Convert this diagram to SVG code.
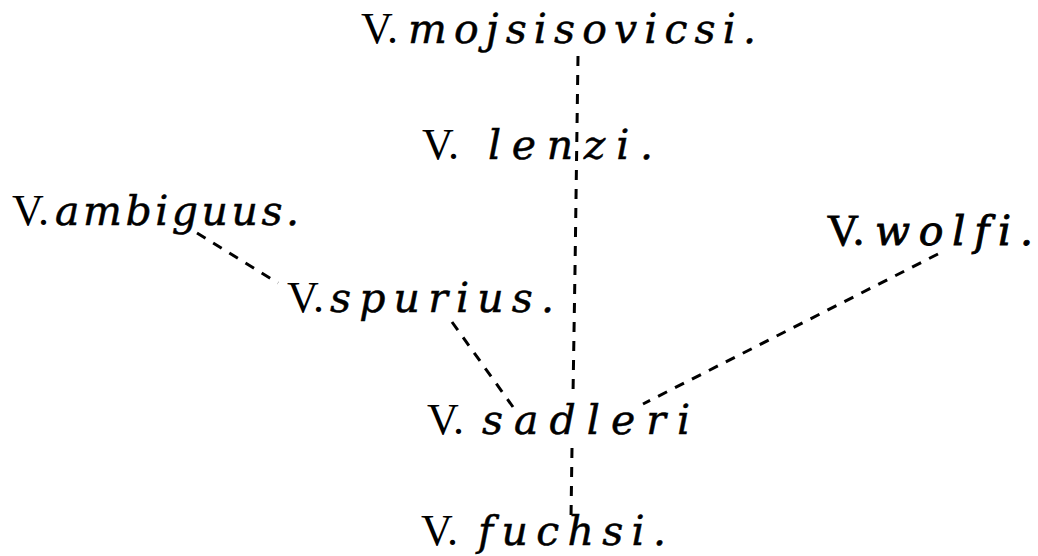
<svg xmlns="http://www.w3.org/2000/svg" width="1038" height="556" viewBox="0 0 1038 556">
<style>
.v{font-family:"Liberation Serif","DejaVu Serif",serif;font-size:44px;fill:#000}
.sp{font-family:"DejaVu Serif","Liberation Serif",serif;font-style:italic;font-size:41px;fill:#000;font-variant-ligatures:none;stroke:#000;stroke-width:0.5}
.b{stroke:#000;stroke-width:0.9}
.dash{stroke:#000;stroke-width:3;fill:none;stroke-dasharray:10 9}
</style>
<rect width="1038" height="556" fill="#fff"/>
<g id="connectors">
<polyline class="dash" points="578,56 575,270 573,395"/>
<line class="dash" x1="572" y1="448" x2="571" y2="518"/>
<line class="dash" x1="197" y1="233" x2="278" y2="283"/>
<line class="dash" x1="452" y1="322" x2="513" y2="407"/>
<line class="dash" x1="938" y1="254" x2="643" y2="404"/>
</g>
<g id="mojsisovicsi"><text class="v" x="361" y="43">V.</text><text class="sp" x="408" y="43" textLength="348" lengthAdjust="spacing">mojsisovicsi.</text></g>
<g id="lenzi"><text class="v" x="422" y="159">V.</text><text class="sp" x="488" y="159" textLength="165" lengthAdjust="spacing">lenzi.</text></g>
<g id="ambiguus"><text class="v" x="12" y="225">V.</text><text class="sp" x="55" y="225" textLength="244" lengthAdjust="spacing">ambiguus.</text></g>
<g id="spurius"><text class="v" x="287" y="312">V.</text><text class="sp" x="330" y="312" textLength="224" lengthAdjust="spacing">spurius.</text></g>
<g id="wolfi"><text class="v b" x="827" y="245">V.</text><text class="sp b" x="875" y="245" textLength="158" lengthAdjust="spacing">wolfi.</text></g>
<g id="sadleri"><text class="v" x="427" y="434">V.</text><text class="sp" x="482" y="434" textLength="208" lengthAdjust="spacing">sadleri</text></g>
<g id="fuchsi"><text class="v" x="421" y="545">V.</text><text class="sp" x="478" y="545" textLength="188" lengthAdjust="spacing">fuchsi.</text></g>
</svg>
